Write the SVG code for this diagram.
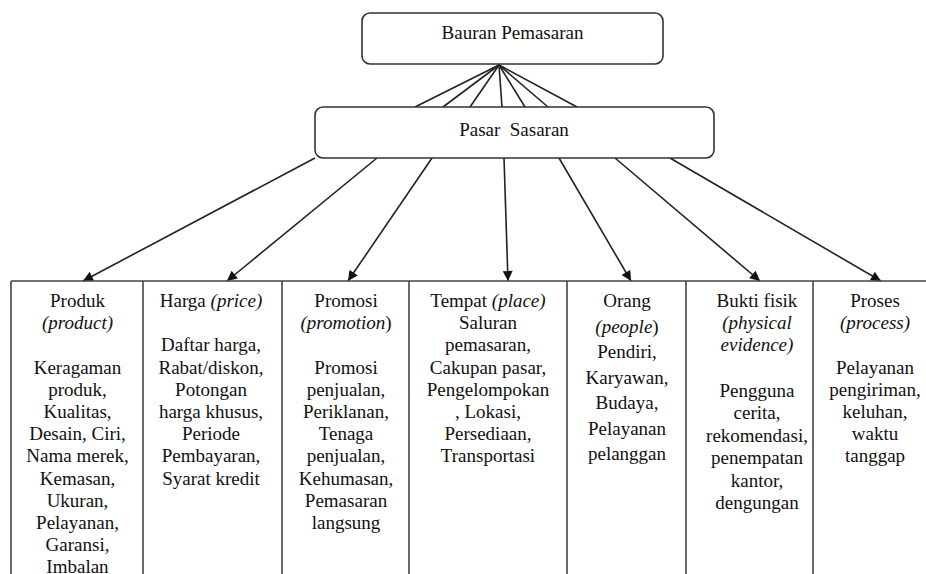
<svg xmlns="http://www.w3.org/2000/svg" width="926" height="574" viewBox="0 0 926 574" font-family="Liberation Serif, Times New Roman, serif" font-size="19">
<defs>
<style>
.box{fill:#fff;stroke:#333;stroke-width:1.6}
.ln{stroke:#222;stroke-width:1.6;fill:none}
.arr{stroke:#222;stroke-width:1.6;fill:none;marker-end:url(#ah)}
.grid{stroke:#444;stroke-width:1.6;fill:none}
text{fill:#111;text-anchor:middle}
.i{font-style:italic}
</style>
<marker id="ah" viewBox="0 0 10 10" refX="10" refY="5" markerWidth="11" markerHeight="10" markerUnits="userSpaceOnUse" orient="auto">
<path d="M0,0 L10,5 L0,10 z" fill="#111"/>
</marker>
</defs>
<rect width="926" height="574" fill="#fff"/>

<g id="bauran">
<rect class="box" x="362" y="13" width="301" height="51" rx="8"/>
<text x="512.5" y="39" font-family="Liberation Serif, serif">Bauran Pemasaran</text>
</g>

<g id="connectors">
<line class="ln" x1="499" y1="65" x2="415" y2="107"/>
<line class="ln" x1="499" y1="65" x2="443" y2="107"/>
<line class="ln" x1="499" y1="65" x2="470" y2="107"/>
<line class="ln" x1="499" y1="65" x2="502" y2="107"/>
<line class="ln" x1="499" y1="65" x2="525" y2="107"/>
<line class="ln" x1="499" y1="65" x2="548" y2="107"/>
<line class="ln" x1="499" y1="65" x2="577" y2="107"/>
<line class="arr" x1="315" y1="158" x2="83" y2="281"/>
<line class="arr" x1="377" y1="158" x2="227" y2="281"/>
<line class="arr" x1="432" y1="158" x2="348" y2="281"/>
<line class="arr" x1="504" y1="158" x2="508" y2="281"/>
<line class="arr" x1="559" y1="158" x2="631" y2="281"/>
<line class="arr" x1="615" y1="158" x2="760" y2="281"/>
<line class="arr" x1="670" y1="158" x2="881" y2="281"/>
</g>

<g id="pasar">
<rect class="box" x="315" y="107" width="399" height="51" rx="8"/>
<text x="514" y="136" xml:space="preserve">Pasar  Sasaran</text>
</g>

<g id="table">
<line class="grid" x1="11" y1="281" x2="926" y2="281"/>
<line class="grid" x1="11" y1="281" x2="11" y2="574"/>
<line class="grid" x1="143" y1="281" x2="143" y2="574"/>
<line class="grid" x1="282" y1="281" x2="282" y2="574"/>
<line class="grid" x1="409" y1="281" x2="409" y2="574"/>
<line class="grid" x1="567" y1="281" x2="567" y2="574"/>
<line class="grid" x1="686" y1="281" x2="686" y2="574"/>
<line class="grid" x1="813" y1="281" x2="813" y2="574"/>
</g>

<g id="produk">
<text x="77.5" y="307">Produk</text>
<text x="77.5" y="329.2" class="i">(product)</text>
<text x="77.5" y="373.6">Keragaman</text>
<text x="77.5" y="395.8">produk,</text>
<text x="77.5" y="418">Kualitas,</text>
<text x="77.5" y="440.2">Desain, Ciri,</text>
<text x="77.5" y="462.4">Nama merek,</text>
<text x="77.5" y="484.6">Kemasan,</text>
<text x="77.5" y="506.8">Ukuran,</text>
<text x="77.5" y="529">Pelayanan,</text>
<text x="77.5" y="551.2">Garansi,</text>
<text x="77.5" y="572.5">Imbalan</text>
</g>

<g id="harga">
<text x="211" y="307">Harga <tspan class="i">(price)</tspan></text>
<text x="211" y="351.4">Daftar harga,</text>
<text x="211" y="373.6">Rabat/diskon,</text>
<text x="211" y="395.8">Potongan</text>
<text x="211" y="418">harga khusus,</text>
<text x="211" y="440.2">Periode</text>
<text x="211" y="462.4">Pembayaran,</text>
<text x="211" y="484.6">Syarat kredit</text>
</g>

<g id="promosi">
<text x="346" y="307">Promosi</text>
<text x="346" y="329.2"><tspan class="i">(promotion</tspan>)</text>
<text x="346" y="373.6">Promosi</text>
<text x="346" y="395.8">penjualan,</text>
<text x="346" y="418">Periklanan,</text>
<text x="346" y="440.2">Tenaga</text>
<text x="346" y="462.4">penjualan,</text>
<text x="346" y="484.6">Kehumasan,</text>
<text x="346" y="506.8">Pemasaran</text>
<text x="346" y="529">langsung</text>
</g>

<g id="tempat">
<text x="488" y="307">Tempat <tspan class="i">(place)</tspan></text>
<text x="488" y="329.2">Saluran</text>
<text x="488" y="351.4">pemasaran,</text>
<text x="488" y="373.6">Cakupan pasar,</text>
<text x="488" y="395.8">Pengelompokan</text>
<text x="488" y="418">, Lokasi,</text>
<text x="488" y="440.2">Persediaan,</text>
<text x="488" y="462.4">Transportasi</text>
</g>

<g id="orang">
<text x="627" y="307">Orang</text>
<text x="627" y="332.5"><tspan class="i">(people</tspan>)</text>
<text x="627" y="358">Pendiri,</text>
<text x="627" y="383.5">Karyawan,</text>
<text x="627" y="409">Budaya,</text>
<text x="627" y="434.5">Pelayanan</text>
<text x="627" y="460">pelanggan</text>
</g>

<g id="bukti">
<text x="757" y="307">Bukti fisik</text>
<text x="757" y="329.2" class="i">(physical</text>
<text x="757" y="351.4" class="i">evidence)</text>
<text x="757" y="396.5">Pengguna</text>
<text x="757" y="419">cerita,</text>
<text x="757" y="441.5">rekomendasi,</text>
<text x="757" y="464">penempatan</text>
<text x="757" y="486.5">kantor,</text>
<text x="757" y="509">dengungan</text>
</g>

<g id="proses">
<text x="875" y="307">Proses</text>
<text x="875" y="329.2" class="i">(process)</text>
<text x="875" y="373.6">Pelayanan</text>
<text x="875" y="395.8">pengiriman,</text>
<text x="875" y="418">keluhan,</text>
<text x="875" y="440.2">waktu</text>
<text x="875" y="462.4">tanggap</text>
</g>
</svg>
